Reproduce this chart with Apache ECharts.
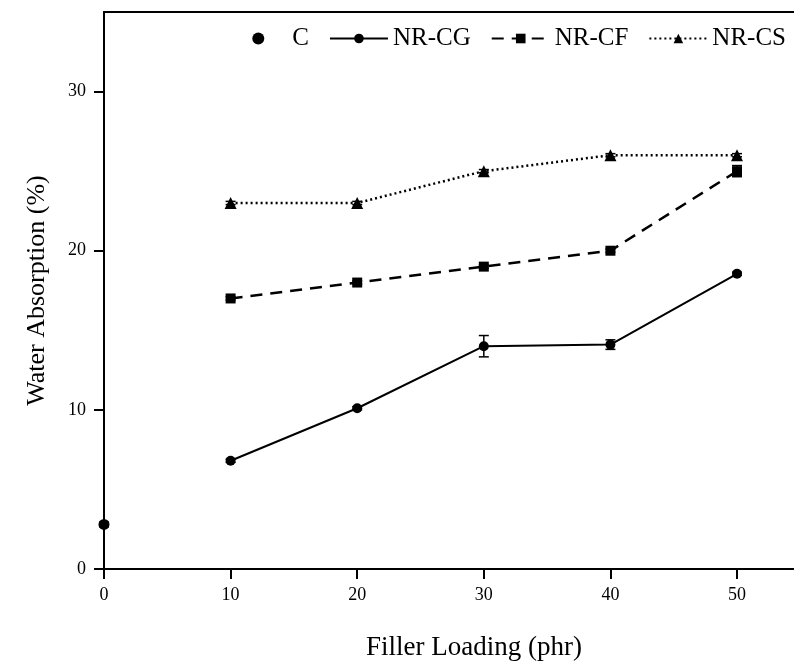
<!DOCTYPE html>
<html>
<head>
<meta charset="utf-8">
<script src="https://cdn.jsdelivr.net/npm/echarts@6/dist/echarts.min.js"></script>
<style>
  html, body { margin: 0; padding: 0; background: #fff; overflow: hidden; }
  #waterChart { width: 794px; height: 666px; }
</style>
</head>
<body>
<div id="waterChart"></div>
<script>
// data
const loading = [10, 20, 30, 40, 50];
const controlX = [0];
const controlY = [2.8];
const controlErr = [0.15];
const cgValues = [6.8, 10.1, 14.0, 14.1, 18.55];
const cgErr = [0.1, 0.1, 0.67, 0.3, 0.1];
const cfValues = [17.0, 18.0, 19.0, 20.0, 25.0];
const cfErr = [0.1, 0.1, 0.1, 0.1, 0.35];
const csValues = [23.0, 23.0, 25.0, 26.0, 26.0];
const csErr = [0.1, 0.1, 0.1, 0.1, 0.1];
const xTicks = [0, 10, 20, 30, 40, 50];
const yTicks = [0, 10, 20, 30];

const font = "'Liberation Serif', 'Times New Roman', serif";

function pairs(xs, ys) {
  return xs.map((x, i) => [x, ys[i]]);
}
function errRows(xs, ys, es) {
  return xs.map((x, i) => [x, ys[i], es[i]]);
}

// error bar drawing
function renderErr(params, api) {
  let x = api.value(0);
  let y = api.value(1);
  let e = api.value(2);
  let hi = api.coord([x, y + e]);
  let lo = api.coord([x, y - e]);
  let half = 5;
  let style = { stroke: '#000', lineWidth: 1.5 };
  return {
    type: 'group',
    children: [
      { type: 'line', shape: { x1: hi[0], y1: hi[1], x2: lo[0], y2: lo[1] }, style: style },
      { type: 'line', shape: { x1: hi[0] - half, y1: hi[1], x2: hi[0] + half, y2: hi[1] }, style: style },
      { type: 'line', shape: { x1: lo[0] - half, y1: lo[1], x2: lo[0] + half, y2: lo[1] }, style: style }
    ]
  };
}

let chart = echarts.init(document.getElementById('waterChart'));
let option = {
  backgroundColor: '#fff',
  animation: false,
  textStyle: { fontFamily: font, color: '#000' },
  grid: { left: 104, right: 0, top: 12, bottom: 89 },
  legend: {
    right: 3,
    top: 21,
    itemWidth: 58,
    itemHeight: 12,
    itemGap: 20,
    textStyle: { fontFamily: font, fontSize: 25, color: '#000' },
    data: ['C', 'NR-CG', 'NR-CF', 'NR-CS']
  },
  xAxis: [
    {
      type: 'value',
      min: 0,
      max: 54.5,
      interval: 10,
      name: 'Filler Loading (phr)',
      nameLocation: 'middle',
      nameGap: 65,
      nameTextStyle: { fontFamily: font, fontSize: 27, color: '#000', padding: [0, 0, 0, 50] },
      axisLine: { lineStyle: { color: '#000', width: 2 } },
      axisTick: { inside: false, length: 10, customValues: xTicks, lineStyle: { color: '#000', width: 2 } },
      axisLabel: { customValues: xTicks, margin: 17, fontFamily: font, fontSize: 18, color: '#000' },
      splitLine: { show: false }
    },
    {
      type: 'value',
      position: 'top',
      min: 0,
      max: 54.5,
      axisLine: { show: true, onZero: false, lineStyle: { color: '#000', width: 2 } },
      axisTick: { show: false },
      axisLabel: { show: false },
      splitLine: { show: false }
    }
  ],
  yAxis: {
    type: 'value',
    min: 0,
    max: 35,
    interval: 10,
    name: 'Water Absorption (%)',
    nameLocation: 'middle',
    nameGap: 54,
    nameTextStyle: { fontFamily: font, fontSize: 26, color: '#000' },
    axisLine: { show: true, lineStyle: { color: '#000', width: 2 } },
    axisTick: { show: true, inside: false, length: 10, customValues: yTicks, lineStyle: { color: '#000', width: 2 } },
    axisLabel: { customValues: yTicks, margin: 18, fontFamily: font, fontSize: 18, color: '#000' },
    splitLine: { show: false }
  },
  series: [
    {
      name: 'C',
      type: 'scatter',
      symbol: 'circle',
      symbolSize: 11,
      itemStyle: { color: '#000', opacity: 1 },
      clip: false,
      data: pairs(controlX, controlY)
    },
    {
      name: 'NR-CG',
      type: 'line',
      symbol: 'circle',
      symbolSize: 10,
      showAllSymbol: true,
      itemStyle: { color: '#000' },
      lineStyle: { color: '#000', width: 2 },
      data: pairs(loading, cgValues)
    },
    {
      name: 'NR-CF',
      type: 'line',
      symbol: 'rect',
      symbolSize: 10,
      itemStyle: { color: '#000' },
      lineStyle: { color: '#000', width: 2.5, type: [12, 8] },
      data: pairs(loading, cfValues)
    },
    {
      name: 'NR-CS',
      type: 'line',
      symbol: 'triangle',
      symbolSize: 12,
      itemStyle: { color: '#000' },
      lineStyle: { color: '#000', width: 2.5, type: [2, 3] },
      data: pairs(loading, csValues)
    },
    // error bars
    { type: 'custom', renderItem: renderErr, clip: false, z: 1, data: errRows(controlX, controlY, controlErr) },
    { type: 'custom', renderItem: renderErr, z: 1, data: errRows(loading, cgValues, cgErr) },
    { type: 'custom', renderItem: renderErr, z: 1, data: errRows(loading, cfValues, cfErr) },
    { type: 'custom', renderItem: renderErr, z: 1, data: errRows(loading, csValues, csErr) }
  ]
};

chart.setOption(option, true);
</script>
</body>
</html>
